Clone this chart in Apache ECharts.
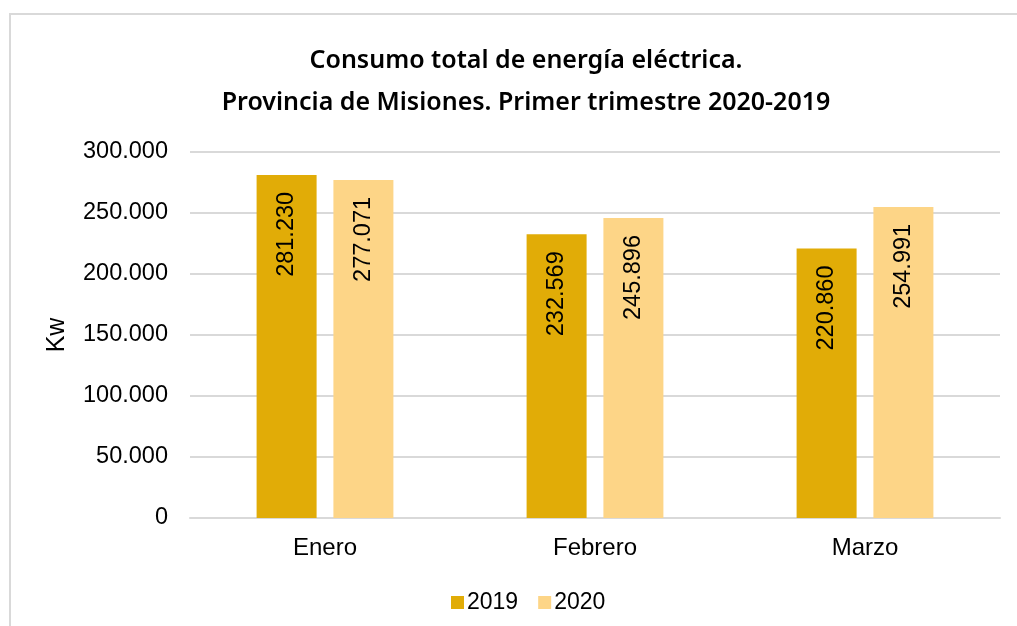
<!DOCTYPE html>
<html>
<head>
<meta charset="utf-8">
<script src="https://cdn.jsdelivr.net/npm/echarts@6/dist/echarts.min.js"></script>
<style>html,body{margin:0;padding:0;background:#fff}#c{width:1017px;height:626px}</style>
</head>
<body>
<div id="c"></div>
<script>
const categories = ['Enero', 'Febrero', 'Marzo'];
const seriesNames = ['2019', '2020'];
const values2019 = [281230, 232569, 220860];
const values2020 = [277071, 245896, 254991];
const yTicks = [0, 50000, 100000, 150000, 200000, 250000, 300000];

function fmt(v) {
  return String(v).replace(/\B(?=(\d{3})+(?!\d))/g, '.');
}

const FONT = 'Liberation Sans, Arial, sans-serif';
const chart = echarts.init(document.getElementById('c'), null, {renderer: 'canvas'});
const labelCfg = {
  show: true,
  position: 'insideTop',
  rotate: 90,
  align: 'right',
  verticalAlign: 'middle',
  distance: 17,
  color: '#000',
  fontFamily: FONT,
  fontSize: 23.5,
  formatter: p => fmt(p.value)
};
chart.setOption({
  animation: false,
  backgroundColor: '#fff',
  graphic: [{
    type: 'rect',
    shape: {x: 10, y: 14, width: 1020, height: 620},
    style: {fill: 'none', stroke: '#d9d9d9', lineWidth: 2},
    silent: true
  }],
  title: {
    text: 'Consumo total de energía eléctrica.\nProvincia de Misiones. Primer trimestre 2020-2019',
    left: 521,
    top: 35,
    textAlign: 'center',
    textStyle: {
      fontFamily: 'Noto Sans',
      fontWeight: 600,
      fontSize: 25,
      lineHeight: 42,
      color: '#000'
    }
  },
  legend: {
    data: seriesNames,
    left: 446,
    top: 586,
    itemWidth: 13,
    itemHeight: 13,
    itemGap: 20,
    icon: 'rect',
    textStyle: {fontFamily: FONT, fontSize: 23, color: '#000', padding: [0, 0, 0, -2]}
  },
  grid: {left: 190, right: 17, top: 152, bottom: 108, containLabel: false},
  xAxis: {
    type: 'category',
    data: categories,
    axisLine: {lineStyle: {color: '#d9d9d9', width: 2}},
    axisTick: {show: false},
    axisLabel: {fontFamily: FONT, fontSize: 24, color: '#000', margin: 18}
  },
  yAxis: {
    type: 'value',
    min: yTicks[0],
    max: yTicks[yTicks.length - 1],
    interval: 50000,
    name: 'Kw',
    nameLocation: 'middle',
    nameGap: 120,
    nameRotate: 90,
    nameTextStyle: {fontFamily: FONT, fontSize: 25, color: '#000'},
    axisLine: {show: false},
    axisTick: {show: false},
    splitLine: {lineStyle: {color: '#d9d9d9', width: 2}},
    axisLabel: {fontFamily: FONT, fontSize: 23.5, color: '#000', margin: 22, formatter: v => fmt(v)}
  },
  series: [
    {name: seriesNames[0], type: 'bar', data: values2019, barWidth: 60, barGap: '28%',
     itemStyle: {color: '#E1AC07'}, label: labelCfg},
    {name: seriesNames[1], type: 'bar', data: values2020, barWidth: 60, barGap: '28%',
     itemStyle: {color: '#FDD587'}, label: labelCfg}
  ]
});
</script>
</body>
</html>
